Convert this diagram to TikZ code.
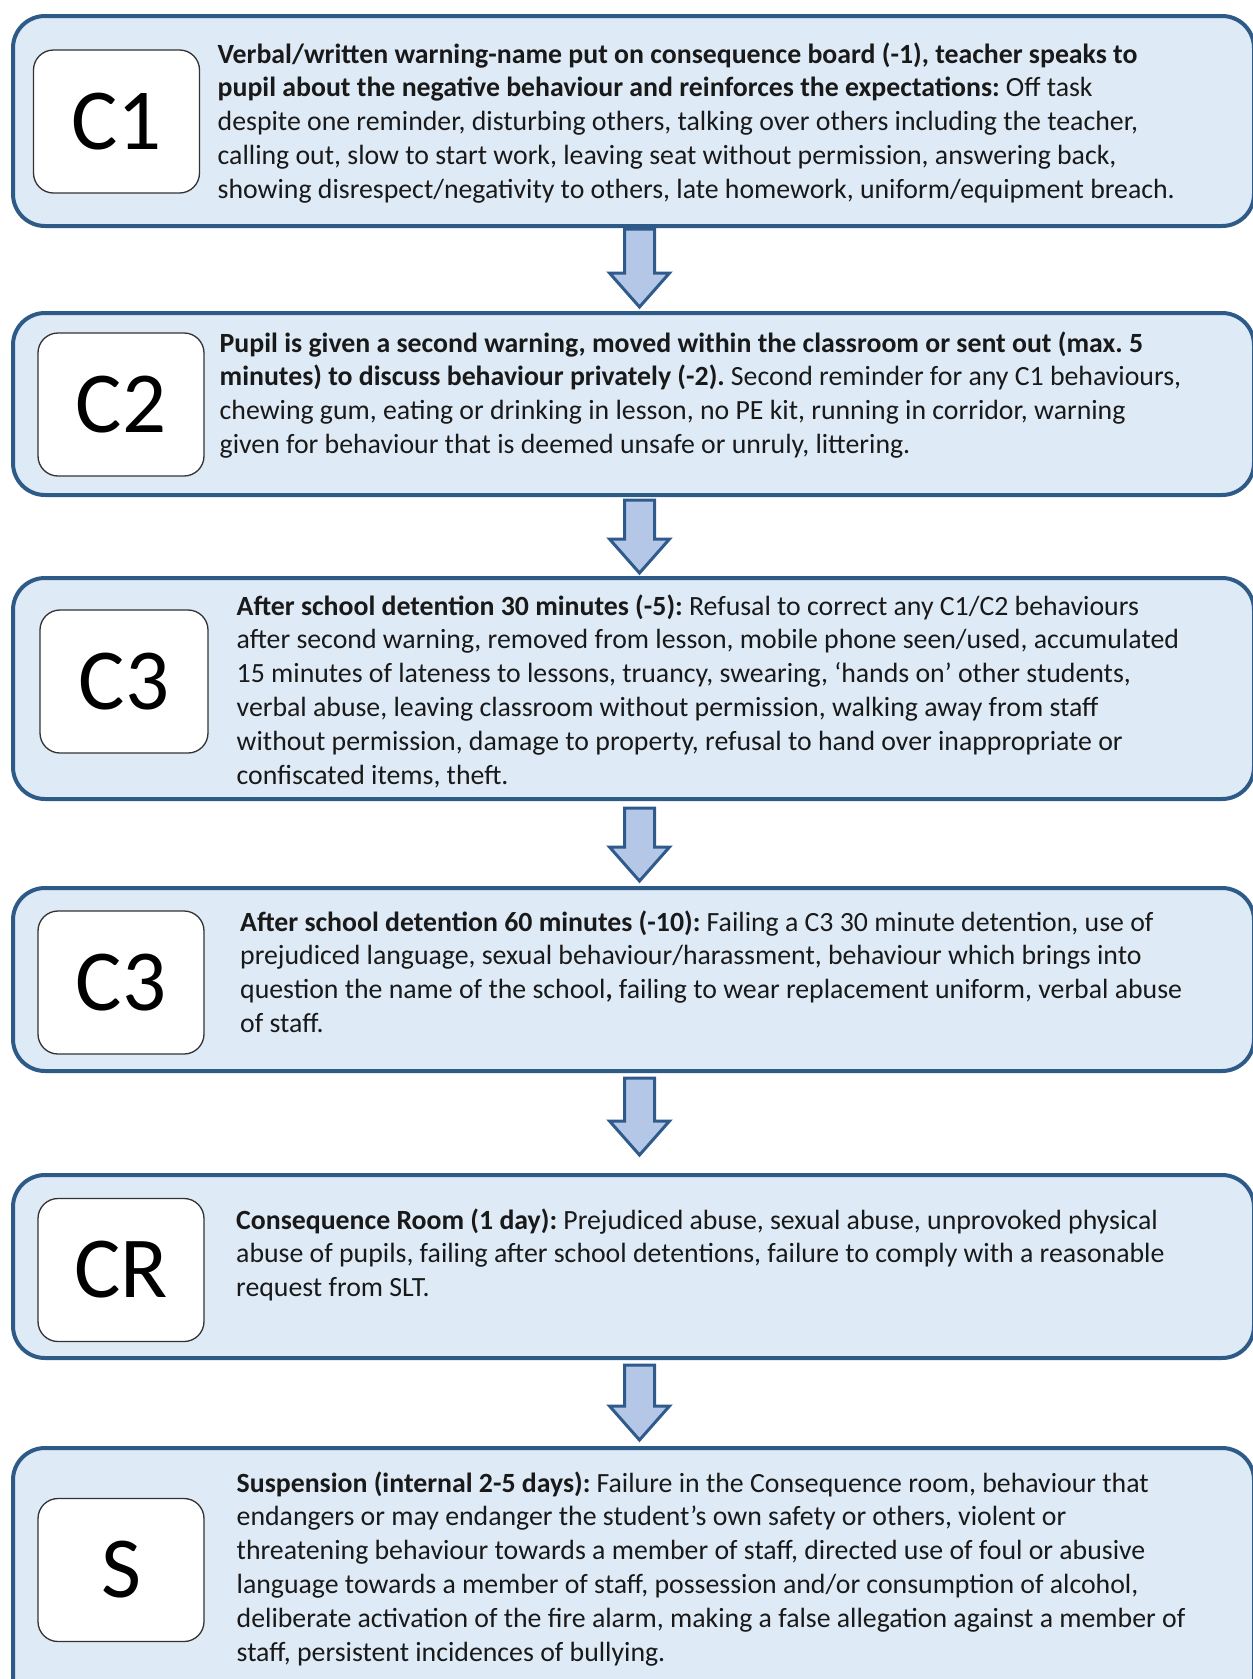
\documentclass[tikz,border=0pt]{standalone}
\usepackage{fontspec}
\setmainfont{Carlito}
\usetikzlibrary{calc}
\definecolor{boxfill}{HTML}{DEEAF6}
\definecolor{boxline}{HTML}{2E5A88}
\definecolor{arrowfill}{HTML}{B4C7E7}
\definecolor{arrowline}{HTML}{2F5A8C}
\tikzset{
  outerbox/.style={draw=boxline, fill=boxfill, line width=4pt, rounded corners=32pt,
    minimum width=1241pt, inner sep=0pt},
  labelbox/.style={draw=black!80, fill=white, line width=1.3pt, rounded corners=20pt,
    minimum width=166pt, minimum height=143pt, inner sep=0pt,
    font=\fontsize{87}{92}\selectfont},
  bodytext/.style={anchor=base west, inner sep=0pt, text=black!90},
  blockarrow/.style={draw=arrowline, fill=arrowfill, line width=3pt, line join=miter}
}
\newcommand\bodyblock[1]{\parbox[t]{1150pt}{\fontsize{27.8}{33.8}\selectfont\frenchspacing\raggedright #1}}
\newcommand\flowarrow[2]{%
  \draw[blockarrow] ($(#1)+(-15,0)$) -- ($(#1)+(15,0)$) -- ($(#2)+(15,-34)$) --
    ($(#2)+(30,-34)$) -- (#2) -- ($(#2)+(-30,-34)$) -- ($(#2)+(-15,-34)$) -- cycle;}
\begin{document}
\begin{tikzpicture}[x=1pt, y=-1pt]
\useasboundingbox (0,0) rectangle (1253,1679);
\clip (0,0) rectangle (1253,1679);
\fill[white] (0,0) rectangle (1253,1679);

% outer boxes
\node[outerbox, minimum height=210pt] (b1) at (633.5,121) {};
\node[outerbox, minimum height=182pt] (b2) at (633.5,404) {};
\node[outerbox, minimum height=221pt] (b3) at (633.5,688.5) {};
\node[outerbox, minimum height=183pt] (b4) at (633.5,979.5) {};
\node[outerbox, minimum height=183pt] (b5) at (633.5,1266.5) {};
\node[outerbox, minimum height=272pt] (b6) at (633.5,1584) {};

% label boxes
\node[labelbox] (l1) at (116.5,121.5) {C1};
\node[labelbox] (l2) at (121,404.5) {C2};
\node[labelbox, minimum width=168pt] (l3) at (124,681.5) {C3};
\node[labelbox] (l4) at (121,982.5) {C3};
\node[labelbox] (l5) at (121,1270) {CR};
\node[labelbox] (l6) at (121,1570) {S};

% texts
\node[bodytext] (t1) at (217.5,63) {\bodyblock{%
\textbf{Verbal/written warning-name put on consequence board (-1), teacher speaks to}\\
\textbf{pupil about the negative behaviour and reinforces the expectations:} Off task\\
despite one reminder, disturbing others, talking over others including the teacher,\\
calling out, slow to start work, leaving seat without permission, answering back,\\
showing disrespect/negativity to others, late homework, uniform/equipment breach.}};

\node[bodytext] (t2) at (219.5,352) {\bodyblock{%
\textbf{Pupil is given a second warning, moved within the classroom or sent out (max. 5}\\
\textbf{minutes) to discuss behaviour privately (-2).} Second reminder for any C1 behaviours,\\
chewing gum, eating or drinking in lesson, no PE kit, running in corridor, warning\\
given for behaviour that is deemed unsafe or unruly, littering.}};

\node[bodytext] (t3) at (236.5,615) {\bodyblock{%
\textbf{After school detention 30 minutes (-5):} Refusal to correct any C1/C2 behaviours\\
after second warning, removed from lesson, mobile phone seen/used, accumulated\\
15 minutes of lateness to lessons, truancy, swearing, ‘hands on’ other students,\\
verbal abuse, leaving classroom without permission, walking away from staff\\
without permission, damage to property, refusal to hand over inappropriate or\\
confiscated items, theft.}};

\node[bodytext] (t4) at (240,931) {\bodyblock{%
\textbf{After school detention 60 minutes (-10):} Failing a C3 30 minute detention, use of\\
prejudiced language, sexual behaviour/harassment, behaviour which brings into\\
question the name of the school\textbf{,} failing to wear replacement uniform, verbal abuse\\
of staff.}};

\node[bodytext] (t5) at (236,1229) {\bodyblock{%
\textbf{Consequence Room (1 day):} Prejudiced abuse, sexual abuse, unprovoked physical\\
abuse of pupils, failing after school detentions, failure to comply with a reasonable\\
request from SLT.}};

\node[bodytext] (t6) at (236.5,1492) {\bodyblock{%
\textbf{Suspension (internal 2-5 days):} Failure in the Consequence room, behaviour that\\
endangers or may endanger the student’s own safety or others, violent or\\
threatening behaviour towards a member of staff, directed use of foul or abusive\\
language towards a member of staff, possession and/or consumption of alcohol,\\
deliberate activation of the fire alarm, making a false allegation against a member of\\
staff, persistent incidences of bullying.}};

% arrows
\coordinate (a1s) at (639.5,229);  \coordinate (a1e) at (639.5,307);
\coordinate (a2s) at (639.5,500);  \coordinate (a2e) at (639.5,573);
\coordinate (a3s) at (639.5,808);  \coordinate (a3e) at (639.5,881);
\coordinate (a4s) at (639.5,1078); \coordinate (a4e) at (639.5,1155);
\coordinate (a5s) at (639.5,1365); \coordinate (a5e) at (639.5,1440);
\flowarrow{a1s}{a1e}
\flowarrow{a2s}{a2e}
\flowarrow{a3s}{a3e}
\flowarrow{a4s}{a4e}
\flowarrow{a5s}{a5e}
\end{tikzpicture}
\end{document}
